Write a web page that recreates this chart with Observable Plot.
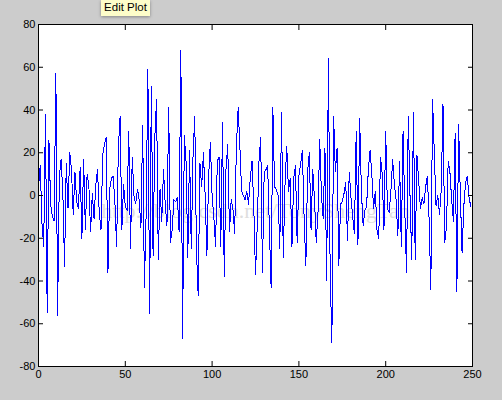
<!DOCTYPE html>
<html>
<head>
<meta charset="utf-8">
<script src="https://cdn.jsdelivr.net/npm/d3@7"></script>
<script src="https://cdn.jsdelivr.net/npm/@observablehq/plot@0.6"></script>
<style>
  html, body { margin: 0; padding: 0; background: #cccccc; }
  #wrap { position: relative; width: 502px; height: 400px; overflow: hidden; }
  #tip {
    position: absolute; left: 101px; top: 0px; width: 49px; height: 16px;
    background: #fdfdc9; box-shadow: 0 1px 3px rgba(0,0,0,0.35);
    font: 11.5px "Liberation Sans", Arial, sans-serif; color: #000;
    line-height: 15px; text-align: center; box-sizing: border-box;
  }
</style>
</head>
<body>
<div id="wrap"><div id="chart"></div><div id="tip">Edit Plot</div></div>
<script>
// Signal values, sample index 0..249
const signal = [
  4, 14, -13, -24, 38, -55, 26, -4, -10, -12,
  57, -56, 9, 17, 2, -33, 15, -6, 20, 12,
  -9, 11, -3, -6, 13, -20, 17, -16, 10, 5,
  -17, 1, -11, 5, 12, -8, -16, 19, 24, 27,
  -36, 3, 8, 9, -3, -24, 22, 37, -16, 5,
  -5, -7, 30, -25, 18, 0, -4, 3, -2, -15,
  33, -43, -9, 59, -55, 51, -28, 27, 45, -30,
  3, -12, 12, -4, -14, 41, -22, -16, -2, -3,
  -1, -17, 68, -67, 28, 16, -29, 21, -25, 18,
  37, -26, -47, 15, 4, 20, 0, -28, 9, 25,
  0, -10, -24, 16, 18, -24, 34, -38, 12, 24,
  -17, -2, -6, -18, 23, 41, 23, 2, 0, -2,
  2, -4, 8, 16, -5, -37, -14, 16, 27, -36,
  11, 12, 14, -15, -43, 41, 4, 3, 0, -25,
  39, -29, 5, 23, 2, 8, -24, 8, 14, -22,
  9, 15, 21, -10, -33, 11, 20, -16, 12, -2,
  -22, -8, 26, 0, -11, 22, -40, 64, -35, -69,
  37, 11, 22, -33, -4, -3, 1, 6, -21, 11,
  -1, -10, -18, 30, -23, 36, 2, -14, -7, -5,
  12, 21, 10, -6, 2, -16, -20, 18, 10, -16,
  30, -6, -8, 2, 17, 5, -2, -19, 16, -24,
  30, -7, -36, 37, 0, -30, 39, -30, 19, 7,
  -6, -1, -4, 4, 9, -11, -44, 45, 20, -5,
  0, -9, 3, 43, -22, -15, 16, 11, -2, -12,
  29, -45, 33, 0, -27, -5, 6, 9, -1, -5
];
const sampleIndex = signal.map((_, i) => i);
const xTicks = [0, 50, 100, 150, 200, 250];
const yTicks = [-80, -60, -40, -20, 0, 20, 40, 60, 80];
const watermark = ["http://blog.csdn.net/TonyShengTan"];

const rows = signal.map((v, i) => ({x: sampleIndex[i], y: v}));
const fmt = d => String(d);
const blank = () => "";

const chart = Plot.plot({
  width: 502,
  height: 400,
  marginLeft: 38,
  marginRight: 30,
  marginTop: 24,
  marginBottom: 34,
  style: {background: "transparent", fontFamily: "Liberation Sans, Arial, sans-serif", fontSize: "11px", color: "#000"},
  x: {domain: [0, 250]},
  y: {domain: [-80, 80]},
  marks: [
    Plot.frame({fill: "white", stroke: null}),
    Plot.text(watermark, {frameAnchor: "middle", dy: 15, fontFamily: "Liberation Serif, serif", fontSize: 22, fill: "#dedede"}),
    Plot.line(rows, {x: "x", y: "y", stroke: "#0000ff", strokeWidth: 1, shapeRendering: "crispEdges"}),
    Plot.axisX(xTicks, {anchor: "bottom", tickSize: -5, tickFormat: blank, label: null}),
    Plot.axisX(xTicks, {anchor: "top", tickSize: -5, tickFormat: blank, label: null}),
    Plot.axisY(yTicks, {anchor: "left", tickSize: -5, tickFormat: blank, label: null}),
    Plot.axisY(yTicks, {anchor: "right", tickSize: -5, tickFormat: blank, label: null}),
    Plot.axisX(xTicks, {anchor: "bottom", tickSize: 0, tickPadding: 4, tickFormat: fmt, label: null, fontSize: 11}),
    Plot.axisY(yTicks, {anchor: "left", tickSize: 0, tickPadding: 3, tickFormat: fmt, label: null, fontSize: 11}),
    Plot.frame({stroke: "black", strokeWidth: 1})
  ]
});
document.getElementById("chart").appendChild(chart);
</script>
</body>
</html>
